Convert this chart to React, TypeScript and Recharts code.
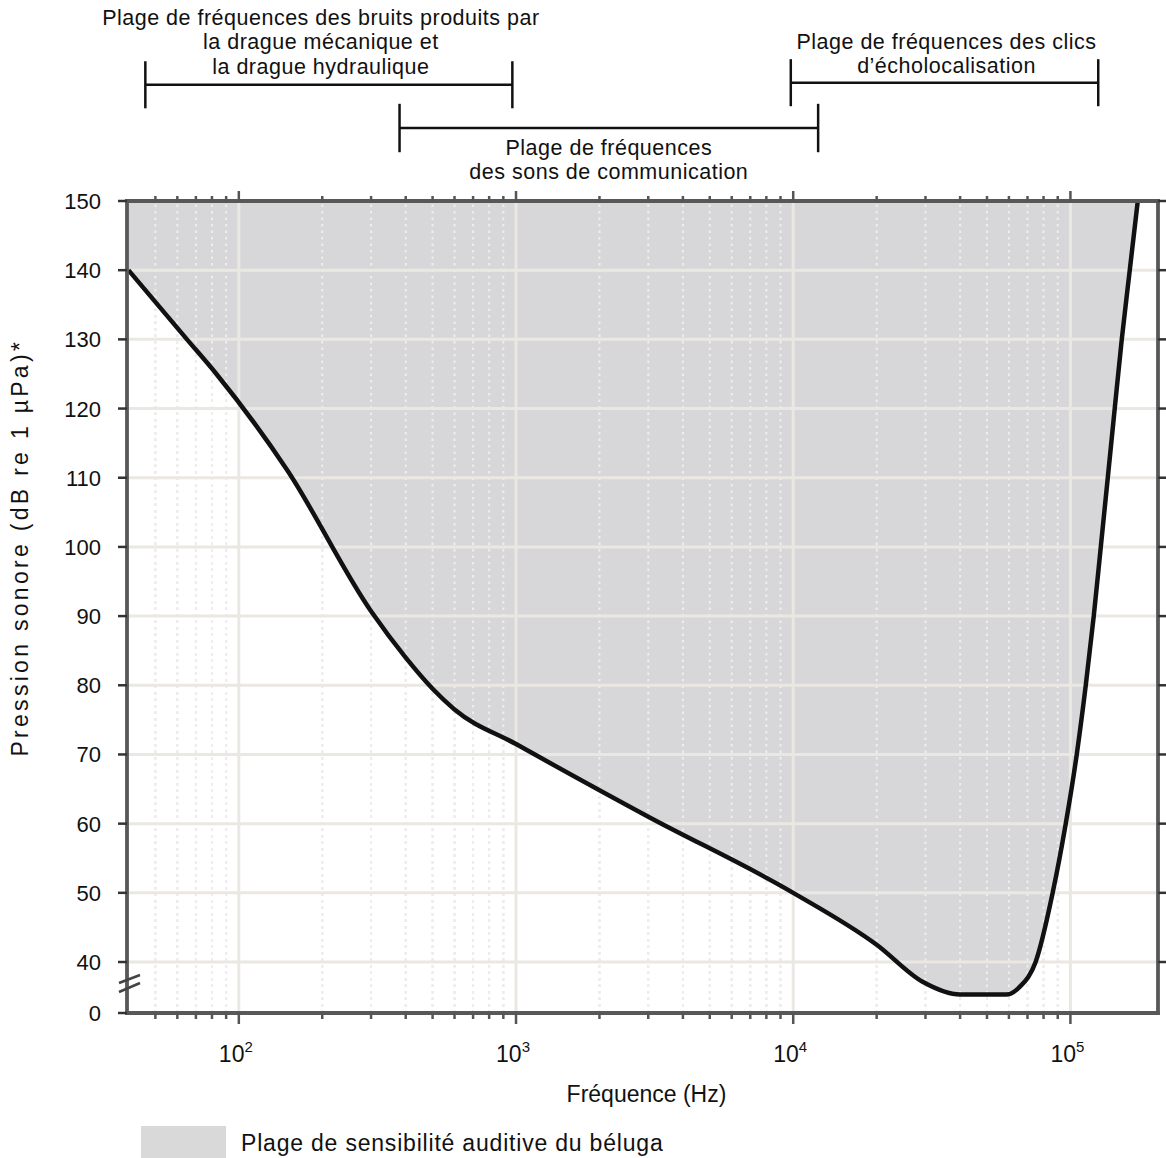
import React from 'react';
import { ComposedChart, Area, Line, XAxis, YAxis, ReferenceLine } from 'recharts';

// hearing threshold of the beluga
const FREQ_HZ = [40, 65, 83, 150, 300, 400, 500, 600, 1000, 3000, 10000, 20000, 29400, 40000, 58700, 65600, 74900, 86300, 96200, 105400, 113600, 121400, 128700, 136400, 144500, 153200, 163700, 175000];
const THRESHOLD_DB = [140, 130, 125, 111, 90.7, 84, 79.5, 76.5, 71.5, 61, 50, 42.5, 37.1, 35.3, 35.3, 36.4, 40, 50, 60, 70, 80, 90, 100, 110, 120, 130, 140, 150];

const DB_TICKS = [40, 50, 60, 70, 80, 90, 100, 110, 120, 130, 140, 150];
const AXIS_FLOOR = 32.63; // where the "0" sits below the axis break
const DECADES = [100, 1000, 10000, 100000];
const MINOR_FREQ = [
  50, 60, 70, 80, 90,
  200, 300, 400, 500, 600, 700, 800, 900,
  2000, 3000, 4000, 5000, 6000, 7000, 8000, 9000,
  20000, 30000, 40000, 50000, 60000, 70000, 80000, 90000,
];

// frequency ranges shown above the plot
const RANGE_FROM = [46, 380, 9800];
const RANGE_TO = [970, 12300, 126000];
const RANGE_TEXT = [
  ['Plage de fréquences des bruits produits par', 'la drague mécanique et', 'la drague hydraulique'],
  ['Plage de fréquences', 'des sons de communication'],
  ['Plage de fréquences des clics', 'd’écholocalisation'],
];

const LEGEND_LABEL = 'Plage de sensibilité auditive du béluga';

const curve = FREQ_HZ.map((f, i) => ({ f, db: THRESHOLD_DB[i] }));
const allFreqTicks = [...MINOR_FREQ, ...DECADES].sort((a, b) => a - b);

const FONT = '"Liberation Sans", Arial, Helvetica, sans-serif';
const FRAME = { stroke: '#585858', strokeWidth: 3.8, strokeLinecap: 'square' as const };
const GRID = '#ebe8e3';
const FILL = '#d7d7d9';

// bracket placement (in the y units of the chart, above 150)
const BRACKET_LAYOUT = [
  { level: 166.8, half: 3.4, dx: -8, dy: [-60, -35.5, -11] },
  { level: 160.55, half: 3.5, dx: 0, dy: [27, 51] },
  { level: 167.1, half: 3.4, dx: 2, dy: [-33.5, -9.5] },
];

const BracketLabel = (props: any) => {
  const vb = props.viewBox || {};
  const cx = (vb.x1 !== undefined ? (vb.x1 + vb.x2) / 2 : vb.x + (vb.width || 0) / 2) + props.dx;
  const cy = vb.y1 !== undefined ? vb.y1 : vb.y;
  return (
    <text x={cx} y={cy} textAnchor="middle" fontFamily={FONT} fontSize={21.5} letterSpacing={0.5} fill="#111">
      {props.lines.map((t: string, i: number) => (
        <tspan key={i} x={cx} y={cy + props.dy[i]}>{t}</tspan>
      ))}
    </text>
  );
};

const LeftTick = (props: any) => {
  const { x, y, payload } = props;
  const isFloor = Math.abs(payload.value - AXIS_FLOOR) < 0.01;
  return (
    <g>
      <line x1={x - 9} x2={x} y1={y} y2={y} stroke="#333" strokeWidth={2.5} />
      <text x={x - 26} y={y} dy={8} textAnchor="end" fontFamily={FONT} fontSize={22} fill="#111">
        {isFloor ? 0 : payload.value}
      </text>
      {isFloor && (
        <g stroke="#444" strokeWidth={2.5}>
          <line x1={x - 8} y1={y - 21} x2={x + 13} y2={y - 30} />
          <line x1={x - 8} y1={y - 30} x2={x + 13} y2={y - 38} />
        </g>
      )}
    </g>
  );
};

const RightTick = (props: any) => {
  const { x, y } = props;
  return <line x1={x} x2={x + 8} y1={y} y2={y} stroke="#333" strokeWidth={2.5} />;
};

const BottomTick = (props: any) => {
  const { x, y, payload } = props;
  const major = DECADES.includes(payload.value);
  return (
    <g>
      <line x1={x} x2={x} y1={y} y2={y + (major ? 11 : 6)} stroke="#555" strokeWidth={2.5} />
      {major && (
        <text x={x - 3} y={y + 49} textAnchor="middle" fontFamily={FONT} fontSize={23} fill="#111">
          10<tspan dy={-10} fontSize={15}>{Math.round(Math.log10(payload.value))}</tspan>
        </text>
      )}
    </g>
  );
};

const TopTick = (props: any) => {
  const { x, y, payload } = props;
  const major = DECADES.includes(payload.value);
  return <line x1={x} x2={x} y1={y} y2={y - (major ? 10 : 5)} stroke="#555" strokeWidth={2.5} />;
};

const XTitle = (props: any) => {
  const vb = props.viewBox;
  return (
    <text x={vb.x + vb.width / 2 + 4} y={vb.y + 89} textAnchor="middle" fontFamily={FONT} fontSize={23} fill="#111">
      Fréquence (Hz)
    </text>
  );
};

const YTitle = (props: any) => {
  const vb = props.viewBox;
  const cy = vb.y + vb.height * 0.427;
  return (
    <text
      transform={`translate(${vb.x + vb.width - 99}, ${cy}) rotate(-90)`}
      textAnchor="middle"
      fontFamily={FONT}
      fontSize={23}
      letterSpacing={3.3}
      fill="#111"
    >
      Pression sonore (dB re 1 µPa)*
    </text>
  );
};

export default function App() {
  return (
    <div style={{ position: 'absolute', left: 0, top: 0, width: 1166, height: 1158, background: '#fff' }}>
      <ComposedChart
        width={1166}
        height={1158}
        data={curve}
        margin={{ top: 200, right: 7, bottom: 144, left: 126 }}
      >
        <XAxis
          dataKey="f"
          type="number"
          scale="log"
          domain={[39.5, 207000]}
          allowDataOverflow
          ticks={allFreqTicks}
          interval={0}
          height={1}
          tickSize={0}
          tickMargin={0}
          tickLine={false}
          axisLine={FRAME}
          tick={<BottomTick />}
          label={<XTitle />}
        />
        <XAxis
          xAxisId="top"
          orientation="top"
          dataKey="f"
          type="number"
          scale="log"
          domain={[39.5, 207000]}
          allowDataOverflow
          ticks={allFreqTicks}
          interval={0}
          height={1}
          tickSize={0}
          tickMargin={0}
          tickLine={false}
          axisLine={FRAME}
          tick={<TopTick />}
        />
        <YAxis
          type="number"
          domain={[AXIS_FLOOR, 150]}
          allowDataOverflow
          ticks={[AXIS_FLOOR, ...DB_TICKS]}
          interval={0}
          width={1}
          tickSize={0}
          tickMargin={0}
          tickLine={false}
          axisLine={FRAME}
          tick={<LeftTick />}
          label={<YTitle />}
        />
        <YAxis
          yAxisId="right"
          orientation="right"
          type="number"
          domain={[AXIS_FLOOR, 150]}
          allowDataOverflow
          ticks={DB_TICKS}
          interval={0}
          width={1}
          tickSize={0}
          tickMargin={0}
          tickLine={false}
          axisLine={FRAME}
          tick={<RightTick />}
        />

        {/* grey dotted minor lines, only visible where the plot is white */}
        {MINOR_FREQ.map((f) => (
          <ReferenceLine key={'mg' + f} x={f} stroke="#d9d9d9" strokeWidth={2} strokeDasharray="2.5 4" zIndex={5} />
        ))}

        <Area
          dataKey="db"
          type="monotone"
          baseValue={150}
          fill={FILL}
          fillOpacity={1}
          stroke="none"
          isAnimationActive={false}
          zIndex={10}
        />

        {/* whitish dotted minor lines over the grey band */}
        {MINOR_FREQ.map((f) => (
          <ReferenceLine key={'mw' + f} x={f} stroke="#eeeeee" strokeWidth={2} strokeDasharray="2.5 4" zIndex={20} />
        ))}
        {DECADES.map((f) => (
          <ReferenceLine key={'d' + f} x={f} stroke={GRID} strokeWidth={3} zIndex={21} />
        ))}
        {DB_TICKS.filter((v) => v < 150).map((v) => (
          <ReferenceLine key={'h' + v} y={v} stroke={GRID} strokeWidth={3} zIndex={21} />
        ))}

        <Line
          dataKey="db"
          type="monotone"
          stroke="#111"
          strokeWidth={4.5}
          dot={false}
          activeDot={false}
          isAnimationActive={false}
          zIndex={30}
        />

        {RANGE_FROM.map((from, i) => {
          const to = RANGE_TO[i];
          const lay = BRACKET_LAYOUT[i];
          return (
            <React.Fragment key={'r' + i}>
              <ReferenceLine
                segment={[{ x: from, y: lay.level }, { x: to, y: lay.level }]}
                stroke="#111"
                strokeWidth={2.5}
                ifOverflow="visible"
                zIndex={40}
                label={<BracketLabel lines={RANGE_TEXT[i]} dx={lay.dx} dy={lay.dy} />}
              />
              <ReferenceLine
                segment={[{ x: from, y: lay.level - lay.half }, { x: from, y: lay.level + lay.half }]}
                stroke="#111"
                strokeWidth={2.5}
                ifOverflow="visible"
                zIndex={40}
              />
              <ReferenceLine
                segment={[{ x: to, y: lay.level - lay.half }, { x: to, y: lay.level + lay.half }]}
                stroke="#111"
                strokeWidth={2.5}
                ifOverflow="visible"
                zIndex={40}
              />
            </React.Fragment>
          );
        })}
      </ComposedChart>

      <div style={{ position: 'absolute', left: 141, top: 1126, display: 'flex', alignItems: 'center', fontFamily: FONT, fontSize: 23, letterSpacing: 0.8, color: '#111' }}>
        <div style={{ width: 85, height: 34, background: '#d9d9d9' }} />
        <span style={{ marginLeft: 15, lineHeight: '34px' }}>{LEGEND_LABEL}</span>
      </div>
    </div>
  );
}
